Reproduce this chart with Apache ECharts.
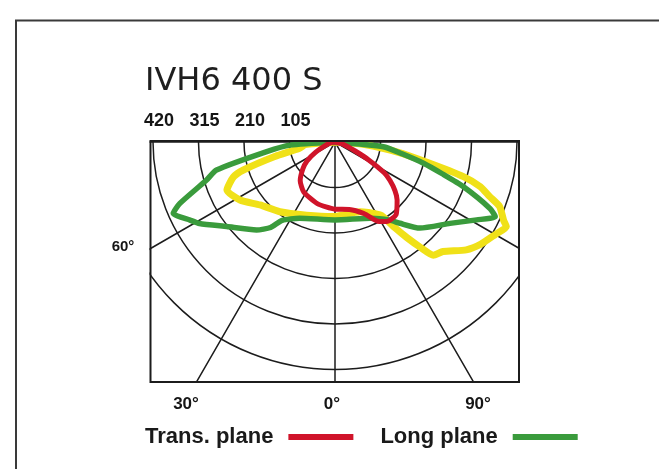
<!DOCTYPE html>
<html>
<head>
<meta charset="utf-8">
<script src="https://cdn.jsdelivr.net/npm/echarts@6/dist/echarts.min.js"></script>
<style>
html,body{margin:0;padding:0;background:#fff;}
#chart{width:659px;height:469px;}
</style>
</head>
<body>
<div id="chart"></div>
<script>
// angles in degrees from nadir (negative = left), intensities in cd
var transAngles = [-90, -80, -70, -62, -56, -50, -42, -32, -16, 0, 12, 22, 29, 33, 40, 47, 51, 55, 58, 62, 66, 75, 90];
var transCd     = [0, 9, 23, 51, 78, 97, 120, 136, 148, 155, 159, 178, 210, 219, 219, 196, 178, 155, 134, 88, 51, 18, 0];

var longAngles = [-90, -86, -82, -76.7, -73.5, -68.4, -66.2, -61.7, -59, -52, -41.7, -37, -34, -25, 0, 25, 35, 38.6, 44.6, 54.7, 61.2, 65, 66.8, 70.8, 73.5, 76.5, 80, 84.4, 90];
var longCd     = [0, 104, 159, 281, 309, 385, 408, 380, 365, 317, 272, 247, 218, 194, 180, 194, 220, 240, 279, 325, 373, 408, 389, 314, 258, 210, 157, 112, 0];

var thirdAngles = [-90, -85, -80, -76.5, -73, -71, -66, -58.6, -50, -38.3, -21.2, -1.3, 19.7, 31.7, 33, 35, 37, 39, 41, 44.6, 50.6, 55, 60, 63.7, 65.1, 68.6, 70.6, 72.9, 74.9, 77.4, 81, 85, 88, 90];
var thirdCd     = [0, 69, 83, 143, 221, 248, 273, 257, 226, 205, 181, 172, 171, 198, 208, 242, 277, 312, 346, 355, 392, 411, 427, 441, 429, 408, 378, 351, 307, 224, 144, 69, 28, 0];

var radiusTicks = [105, 210, 315, 420];
var angleLabels = ['30°', '0°', '90°'];
var sideLabel = '60°';

function pairs(angles, values) {
  return angles.map(function (a, i) { return [values[i], a]; });
}

var chart = echarts.init(document.getElementById('chart'));
var labelFont = 'bold 17px "Liberation Sans", Arial, sans-serif';

var option = {
  animation: false,
  title: {
    text: 'IVH6 400 S',
    left: 145, top: 66, padding: 0,
    textStyle: { fontFamily: 'DejaVu Sans', fontSize: 32, fontWeight: 'normal', color: '#1e1e1e' }
  },
  legend: {
    data: ['Trans. plane', 'Long plane'],
    left: 145, top: 426, padding: 0,
    align: 'right', icon: 'rect', itemWidth: 65, itemHeight: 6, itemGap: 27,
    selectedMode: false,
    textStyle: { fontFamily: 'Liberation Sans', fontWeight: 'bold', fontSize: 22, color: '#1a1a1a', padding: [0, 10, 0, 0] }
  },
  polar: { center: [335, 142], radius: 318.5 },
  angleAxis: {
    type: 'value', min: -90, max: 90, interval: 30,
    startAngle: 180, endAngle: 360, clockwise: false,
    axisLine: { show: false }, axisTick: { show: false }, axisLabel: { show: false },
    splitLine: { lineStyle: { color: '#1c1c1c', width: 1.5 } }
  },
  radiusAxis: {
    type: 'value', min: 0, max: 735, interval: 105,
    axisLine: { show: false }, axisTick: { show: false },
    axisLabel: {
      rotate: 0, margin: -12, verticalAlign: 'bottom', padding: [0, 0, 0, 12],
      fontFamily: 'Liberation Sans', fontWeight: 'bold', fontSize: 18, color: '#151515',
      formatter: function (v) { return radiusTicks.indexOf(v) >= 0 ? String(v) : ''; }
    },
    splitLine: {
      lineStyle: {
        width: 1.5,
        color: ['#1c1c1c', '#1c1c1c', '#1c1c1c', '#1c1c1c', '#1c1c1c', '#1c1c1c', 'rgba(0,0,0,0)', 'rgba(0,0,0,0)']
      }
    }
  },
  series: [
    {
      name: 'Third plane', type: 'line', coordinateSystem: 'polar',
      data: pairs(thirdAngles, thirdCd), showSymbol: false, smooth: 0.2, z: 2,
      lineStyle: { color: '#f0e118', width: 7, join: 'round' }, itemStyle: { color: '#f0e118' }
    },
    {
      name: 'Long plane', type: 'line', coordinateSystem: 'polar',
      data: pairs(longAngles, longCd), showSymbol: false, smooth: 0.2, z: 2,
      lineStyle: { color: '#3a9b3c', width: 5.5, join: 'round' }, itemStyle: { color: '#3a9b3c' }
    },
    {
      name: 'Trans. plane', type: 'line', coordinateSystem: 'polar',
      data: pairs(transAngles, transCd), showSymbol: false, smooth: 0.2, z: 2,
      lineStyle: { color: '#d0142a', width: 5, join: 'round' }, itemStyle: { color: '#d0142a' }
    }
  ],
  graphic: [
    // white masks outside the diagram box
    { type: 'rect', z: 3, silent: true, shape: { x: 0, y: 141, width: 149.5, height: 328 }, style: { fill: '#fff' } },
    { type: 'rect', z: 3, silent: true, shape: { x: 520, y: 130, width: 139, height: 339 }, style: { fill: '#fff' } },
    { type: 'rect', z: 3, silent: true, shape: { x: 0, y: 383, width: 659, height: 86 }, style: { fill: '#fff' } },
    // diagram box
    { type: 'rect', z: 10, silent: true, shape: { x: 150.5, y: 141, width: 368.5, height: 241 }, style: { fill: 'none', stroke: '#1c1c1c', lineWidth: 2 } },
    // outer frame
    { type: 'polyline', z: 10, silent: true, shape: { points: [[16, 469], [16, 20.5], [659, 20.5]] }, style: { fill: 'none', stroke: '#3a3a3a', lineWidth: 2 } },
    { type: 'text', z: 10, silent: true, style: { text: angleLabels[0], x: 186, y: 404, align: 'center', verticalAlign: 'middle', font: labelFont, fill: '#151515' } },
    { type: 'text', z: 10, silent: true, style: { text: angleLabels[1], x: 332, y: 404, align: 'center', verticalAlign: 'middle', font: labelFont, fill: '#151515' } },
    { type: 'text', z: 10, silent: true, style: { text: angleLabels[2], x: 478, y: 404, align: 'center', verticalAlign: 'middle', font: labelFont, fill: '#151515' } },
    { type: 'text', z: 10, silent: true, style: { text: sideLabel, x: 123, y: 247, align: 'center', verticalAlign: 'middle', font: 'bold 15px "Liberation Sans", Arial, sans-serif', fill: '#151515' } }
  ]
};

chart.setOption(option);
window.onresize = function () { chart.resize(); };
</script>
</body>
</html>
